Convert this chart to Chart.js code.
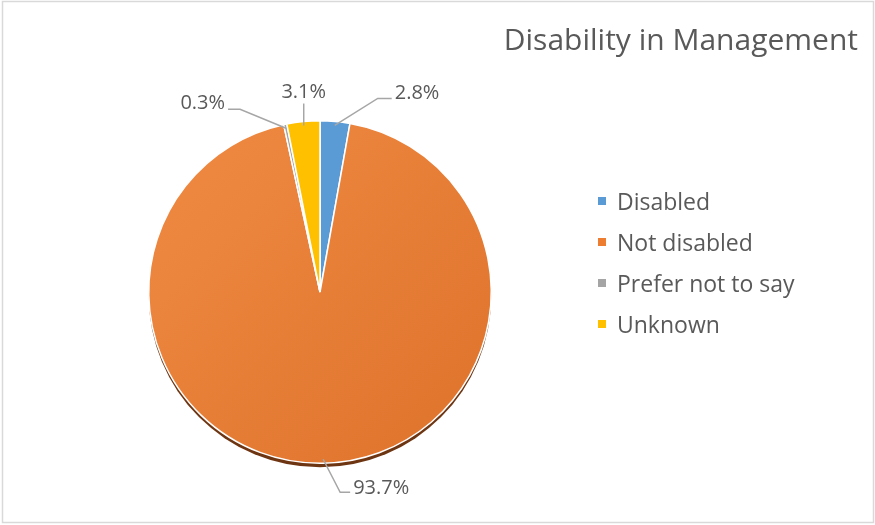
<!DOCTYPE html>
<html>
<head>
<meta charset="utf-8">
<script src="https://cdn.jsdelivr.net/npm/chart.js@4"></script>
<style>
html,body{margin:0;padding:0;background:#fff;}
#wrap{width:875px;height:525px;position:relative;}
</style>
</head>
<body>
<div id="wrap"><canvas id="c" width="875" height="525"></canvas></div>
<script>
const titleText = 'Disability in Management';
const categories = ['Disabled', 'Not disabled', 'Prefer not to say', 'Unknown'];
const values = [2.8, 93.7, 0.3, 3.1];
const valueLabels = ['2.8%', '93.7%', '0.3%', '3.1%'];
const colors = ['#5B9BD5', '#ED7D31', '#A5A5A5', '#FFC000'];

const FONT = '"Open Sans", "Noto Sans", sans-serif';
const TEXT = '#595959';

// leader-line layout per slice: elbow offset from the slice edge, horizontal run, text side
const leader = [
  {dx: 43, dy: -27, run: 14, align: 'left', ty: 1},
  {dx: 17, dy: 33, run: 10, align: 'left', ty: 2},
  {dx: -46, dy: -19, run: -12, align: 'right', ty: 0},
  {dx: 0, dy: -22, run: 0, align: 'center', ty: -6}
];

const decor = {
  id: 'decor',
  beforeDatasetsDraw(chart) {
    const ctx = chart.ctx;
    const arc = chart.getDatasetMeta(0).data[0];
    if (!arc) return;
    ctx.save();
    ctx.beginPath();
    ctx.arc(arc.x, arc.y + 4, arc.outerRadius, 0, Math.PI * 2);
    ctx.fillStyle = '#6E3512';
    ctx.fill();
    ctx.restore();
  },
  afterDraw(chart) {
    const ctx = chart.ctx;
    ctx.save();
    // outer frame
    ctx.strokeStyle = '#D9D9D9';
    ctx.lineWidth = 1.5;
    ctx.strokeRect(2.5, 1.5, 871, 521);
    // title
    ctx.fillStyle = TEXT;
    ctx.font = '30px ' + FONT;
    ctx.textAlign = 'right';
    ctx.textBaseline = 'alphabetic';
    ctx.fillText(titleText, 858, 50);
    // legend
    ctx.font = '23px ' + FONT;
    ctx.textAlign = 'left';
    categories.forEach((name, i) => {
      const base = 210 + i * 41;
      ctx.fillStyle = colors[i];
      ctx.fillRect(598, base - 13, 8, 8);
      ctx.fillStyle = TEXT;
      ctx.fillText(name, 617, base);
    });
    // data labels with leader lines
    const meta = chart.getDatasetMeta(0);
    ctx.font = '20px ' + FONT;
    meta.data.forEach((a, i) => {
      const mid = (a.startAngle + a.endAngle) / 2;
      const r = a.outerRadius - 4;
      const x0 = a.x + Math.cos(mid) * r;
      const y0 = a.y + Math.sin(mid) * r;
      const L = leader[i];
      const x1 = x0 + L.dx, y1 = y0 + L.dy;
      const x2 = x1 + L.run;
      ctx.strokeStyle = '#A6A6A6';
      ctx.lineWidth = 1.5;
      ctx.beginPath();
      ctx.moveTo(x0, y0);
      ctx.lineTo(x1, y1);
      ctx.lineTo(x2, y1);
      ctx.stroke();
      ctx.fillStyle = TEXT;
      ctx.textAlign = L.align;
      ctx.textBaseline = 'alphabetic';
      const tx = L.align === 'left' ? x2 + 3 : (L.align === 'right' ? x2 - 3 : x2);
      ctx.fillText(valueLabels[i], tx, y1 + L.ty);
    });
    ctx.restore();
  }
};

function sliceColor(c) {
  const i = c.dataIndex;
  if (i !== 1) return colors[i];
  const area = c.chart.chartArea;
  if (!area) return colors[i];
  const g = c.chart.ctx.createLinearGradient(area.left, area.top, area.right, area.bottom);
  g.addColorStop(0, '#F08B43');
  g.addColorStop(1, '#DE722B');
  return g;
}

new Chart(document.getElementById('c'), {
  type: 'pie',
  data: {
    labels: categories,
    datasets: [{
      data: values,
      backgroundColor: sliceColor,
      borderColor: '#FFFFFF',
      borderWidth: 1.5
    }]
  },
  options: {
    responsive: false,
    animation: false,
    rotation: 0,
    layout: {padding: {left: 148, right: 383, top: 120, bottom: 61}},
    plugins: {
      legend: {display: false},
      title: {display: false},
      tooltip: {enabled: false}
    }
  },
  plugins: [decor]
});
</script>
</body>
</html>
